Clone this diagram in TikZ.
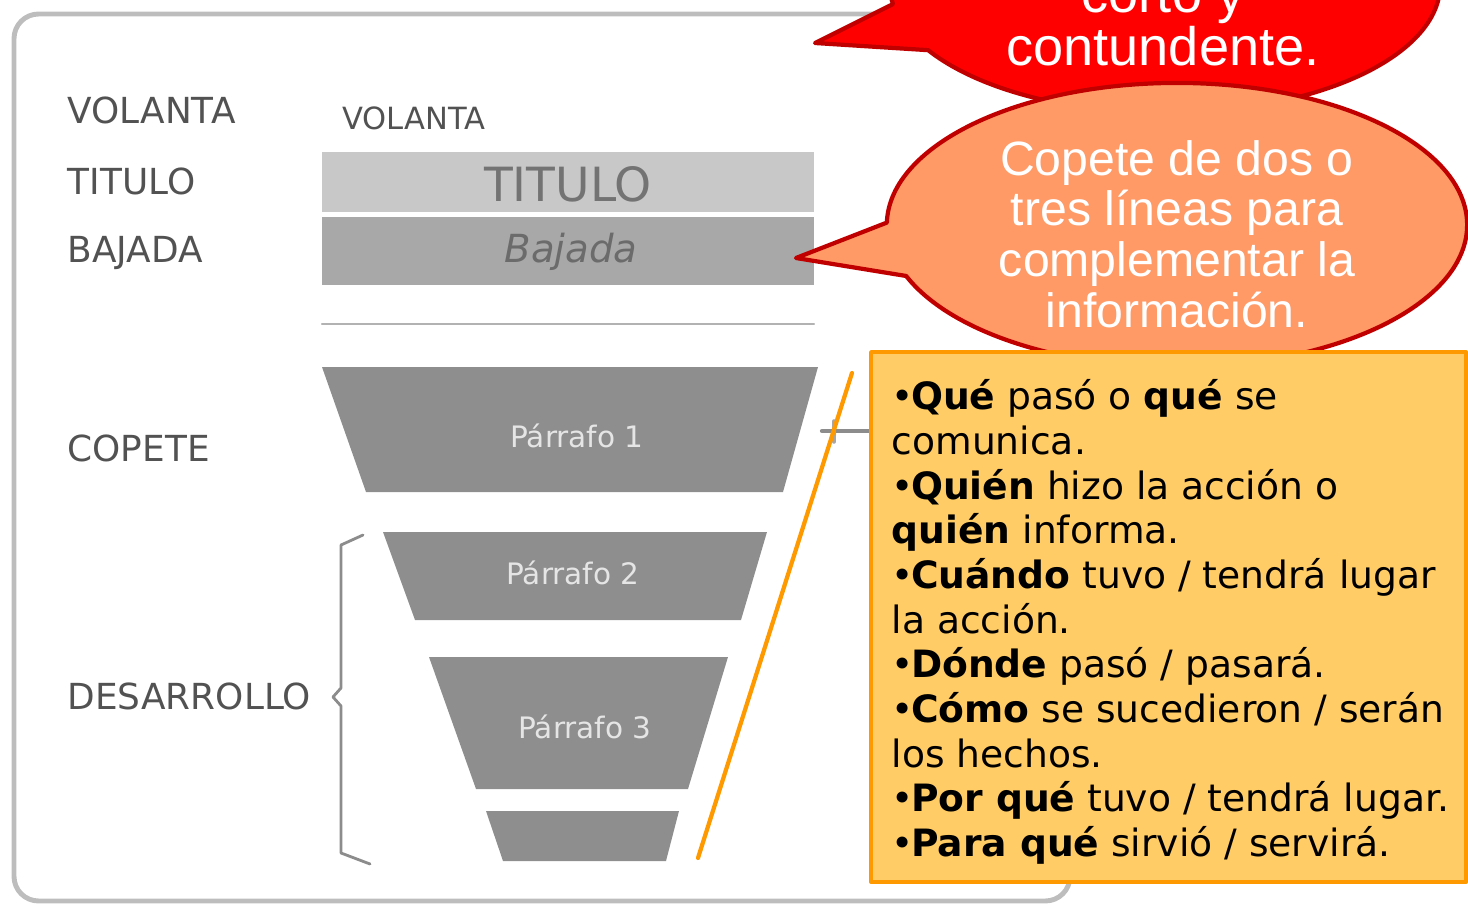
\documentclass[tikz,border=0pt]{standalone}
\usepackage{fontspec}
\setmainfont{DejaVu Sans}
\newfontfamily\globofont{Liberation Sans}
\usetikzlibrary{shapes.callouts}
\definecolor{marco}{HTML}{BDBDBD}
\definecolor{gristit}{HTML}{C8C8C8}
\definecolor{grisbaj}{HTML}{A8A8A8}
\definecolor{grispar}{HTML}{8E8E8E}
\definecolor{rojo}{HTML}{FF0000}
\definecolor{rojoborde}{HTML}{C00000}
\definecolor{salmon}{HTML}{FF9966}
\definecolor{amarillo}{HTML}{FFCC66}
\definecolor{naranja}{HTML}{FF9900}
\newcommand\vin{•\kern-0.8pt}
\begin{document}
\begin{tikzpicture}[x=0.01cm,y=-0.01cm,line join=round,line cap=round,
    etiq/.style={anchor=west,inner sep=0,text=black!68,font=\fontsize{10.2}{12}\selectfont},
    parr/.style={inner sep=0,text=black!10,font=\fontsize{8.4}{10}\selectfont},
    globo/.style={ellipse callout,draw=rojoborde,line width=1.2pt,inner sep=0,callout pointer arc=22},
    globotxt/.style={align=center,text=white,inner sep=0,font=\globofont}]
\useasboundingbox (0,0) rectangle (1468,906);
\clip (0,0) rectangle (1468,906);
% marco
\draw[marco,line width=1.4pt,rounded corners=7pt] (14,14) rectangle (1070,901);
% etiquetas de la izquierda
\node[etiq] (lvol) at (67,110) {VOLANTA};
\node[etiq] (ltit) at (67,181) {TITULO};
\node[etiq] (lbaj) at (67,253) {BAJADA};
\node[etiq] (lcop) at (67,448) {COPETE};
\node[etiq] (ldes) at (67,696) {DESARROLLO};
% cabeza de la nota
\node[inner sep=0,text=black!68,font=\fontsize{8.7}{10}\selectfont] (vol) at (414,118) {VOLANTA};
\fill[gristit] (322,152) rectangle (814,212);
\fill[grisbaj] (322,217) rectangle (814,285);
\node[inner sep=0,text=black!55,font=\fontsize{13.4}{15}\selectfont] (tit) at (568,184) {TITULO};
\node[inner sep=0,text=black!58,font=\fontsize{11}{13}\selectfont\itshape] (baj) at (571,252) {Bajada};
\draw[black!30,line width=0.6pt] (322,324) -- (814,324);
% piramide invertida
\fill[grispar] (322,367) -- (818,367) -- (783,492) -- (366,492) -- cycle;
\fill[grispar] (383,532) -- (767,532) -- (741,620) -- (415,620) -- cycle;
\fill[grispar] (429,657) -- (728,657) -- (688,789) -- (476,789) -- cycle;
\fill[grispar] (486,811) -- (679,811) -- (666,861) -- (503,861) -- cycle;
\node[parr] (p1) at (577,436) {Párrafo 1};
\node[parr] (p2) at (573,573) {Párrafo 2};
\node[parr] (p3) at (585,727) {Párrafo 3};
% llave
\draw[black!45,line width=0.8pt] (363,535) -- (341,545) -- (341,688) -- (333,697) -- (341,706) -- (341,853) -- (370,864);
% conector del copete
\path (822,431) coordinate (c1) (871,431) coordinate (c2);
\draw[black!45,line width=1.2pt] (c1) -- (c2);
\draw[black!35,line width=1pt] (834,421) -- (834,442);
\path (852,373) coordinate (o1) (698,858) coordinate (o2);
\draw[naranja,line width=1.2pt] (o1) -- (o2);
% globos
\node[globo,fill=rojo,minimum width=5.5cm,minimum height=2.56cm,callout absolute pointer={(815,43)}] (rojoglobo) at (1165,-15) {};
\node[globotxt,font=\globofont\fontsize{15.4}{15.2}\selectfont] (rojotxt) at (1163,22) {corto y\\contundente.};
\node[globo,fill=salmon,minimum width=5.8cm,minimum height=2.84cm,callout absolute pointer={(796,258)}] (salglobo) at (1177,225) {};
\node[globotxt,font=\globofont\fontsize{13.7}{14.4}\selectfont] (saltxt) at (1177,234) {Copete de dos o\\tres líneas para\\complementar la\\información.};
% recuadro de las preguntas
\draw[naranja,fill=amarillo,line width=1.1pt] (871,352) rectangle (1466,882);
\node[anchor=north west,inner sep=0,align=left,font=\fontsize{10.7}{12.7}\selectfont] (preg) at (891,379)
  {\vin\textbf{Qué} pasó o \textbf{qué} se\\comunica.\\\vin\textbf{Quién} hizo la acción o\\\textbf{quién} informa.\\\vin\textbf{Cuándo} tuvo / tendrá lugar\\la acción.\\\vin\textbf{Dónde} pasó / pasará.\\\vin\textbf{Cómo} se sucedieron / serán\\los hechos.\\\vin\textbf{Por qué} tuvo / tendrá lugar.\\\vin\textbf{Para qué} sirvió / servirá.};
\end{tikzpicture}
\end{document}
